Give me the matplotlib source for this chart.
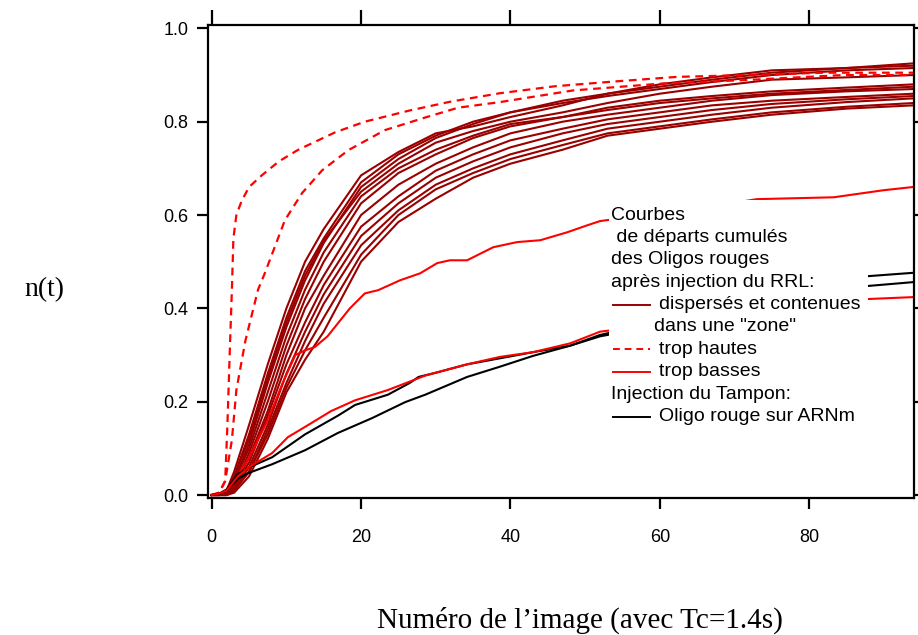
import matplotlib
matplotlib.use("Agg")
import matplotlib.pyplot as plt
from matplotlib.patches import Rectangle
from matplotlib.lines import Line2D

# ---------------- data ----------------
x_zone = [0, 1, 2, 3, 5, 7.5, 10, 12.5, 15, 20, 25, 30, 35, 40, 47, 53, 60, 67, 75, 85, 94]
zone_curves = [
    [0, 0, 0.01, 0.04, 0.13, 0.26, 0.38, 0.48, 0.55, 0.67, 0.73, 0.77, 0.80, 0.82, 0.845, 0.86, 0.875, 0.89, 0.905, 0.915, 0.925],
    [0, 0, 0.01, 0.05, 0.15, 0.28, 0.40, 0.50, 0.57, 0.685, 0.735, 0.775, 0.79, 0.81, 0.835, 0.86, 0.88, 0.895, 0.91, 0.915, 0.92],
    [0, 0, 0.005, 0.03, 0.11, 0.24, 0.36, 0.46, 0.54, 0.66, 0.72, 0.765, 0.795, 0.82, 0.84, 0.855, 0.87, 0.885, 0.90, 0.91, 0.915],
    [0, 0, 0.01, 0.04, 0.12, 0.25, 0.37, 0.47, 0.545, 0.65, 0.71, 0.755, 0.78, 0.80, 0.82, 0.84, 0.86, 0.875, 0.89, 0.895, 0.90],
    [0, 0, 0.005, 0.02, 0.09, 0.20, 0.32, 0.42, 0.50, 0.625, 0.69, 0.73, 0.765, 0.79, 0.81, 0.83, 0.845, 0.855, 0.865, 0.873, 0.88],
    [0, 0, 0.005, 0.03, 0.10, 0.22, 0.34, 0.44, 0.52, 0.64, 0.70, 0.74, 0.77, 0.795, 0.81, 0.825, 0.84, 0.85, 0.86, 0.868, 0.875],
    [0, 0, 0.0, 0.02, 0.08, 0.18, 0.30, 0.40, 0.47, 0.60, 0.665, 0.71, 0.745, 0.775, 0.80, 0.815, 0.83, 0.845, 0.857, 0.865, 0.87],
    [0, 0, 0.0, 0.015, 0.07, 0.17, 0.28, 0.37, 0.45, 0.575, 0.64, 0.695, 0.73, 0.76, 0.785, 0.805, 0.82, 0.835, 0.845, 0.853, 0.86],
    [0, 0, 0, 0.01, 0.06, 0.15, 0.26, 0.35, 0.43, 0.555, 0.625, 0.68, 0.715, 0.745, 0.775, 0.795, 0.81, 0.825, 0.838, 0.848, 0.855],
    [0, 0, 0, 0.01, 0.05, 0.14, 0.24, 0.33, 0.41, 0.535, 0.61, 0.665, 0.70, 0.73, 0.76, 0.785, 0.80, 0.815, 0.83, 0.842, 0.85],
    [0, 0, 0, 0.01, 0.05, 0.13, 0.23, 0.31, 0.38, 0.515, 0.60, 0.655, 0.69, 0.72, 0.75, 0.775, 0.79, 0.805, 0.82, 0.832, 0.84],
    [0, 0, 0, 0.005, 0.04, 0.12, 0.22, 0.29, 0.35, 0.50, 0.585, 0.635, 0.68, 0.71, 0.74, 0.77, 0.785, 0.80, 0.815, 0.828, 0.835],
]

high1_x = [0, 1, 1.8, 2.1, 2.4, 2.7, 2.9, 3.3, 4, 5, 6.7, 9, 11.6, 16.5, 20.5, 26.5, 32, 38.6, 46, 53.8, 62.3, 72, 82, 94]
high1_y = [0, 0.005, 0.03, 0.15, 0.30, 0.44, 0.55, 0.60, 0.63, 0.66, 0.685, 0.715, 0.74, 0.777, 0.80, 0.824, 0.843, 0.861, 0.876, 0.886, 0.896, 0.90, 0.905, 0.905]
high2_x = [0, 1, 1.8, 2.7, 3.3, 4.5, 6.2, 7.1, 9.8, 12.1, 14.8, 18.3, 23.2, 28.6, 33, 38.6, 48.4, 60.5, 71.2, 84.6, 94]
high2_y = [0, 0.005, 0.03, 0.118, 0.225, 0.33, 0.44, 0.475, 0.589, 0.647, 0.696, 0.739, 0.782, 0.809, 0.83, 0.842, 0.867, 0.882, 0.889, 0.90, 0.90]

low1_x = [0, 1, 2, 3, 5, 7.5, 9.5, 11.2, 12.5, 13.8, 15.5, 16.9, 18.5, 20.5, 22.3, 25.2, 27.9, 30.2, 31.9, 34.2, 37.7, 40.9, 44, 47.6, 50.3, 52, 69.5, 73, 83.3, 89.9, 93.9]
low1_y = [0, 0.003, 0.01, 0.03, 0.08, 0.16, 0.24, 0.30, 0.31, 0.317, 0.34, 0.368, 0.40, 0.432, 0.439, 0.46, 0.475, 0.497, 0.503, 0.503, 0.531, 0.542, 0.546, 0.563, 0.578, 0.587, 0.625, 0.634, 0.638, 0.653, 0.66]
low2_x = [0, 1, 2, 3.5, 5, 8.1, 10.2, 12.5, 16, 19.2, 23.6, 28.6, 34.2, 38.6, 43, 48, 52, 87.9, 93.8]
low2_y = [0, 0.003, 0.01, 0.04, 0.06, 0.09, 0.124, 0.146, 0.18, 0.203, 0.225, 0.256, 0.28, 0.296, 0.306, 0.325, 0.35, 0.42, 0.424]

buf1_x = [0, 1, 2, 3.5, 5.1, 8.1, 12.5, 16.9, 19.2, 23.6, 26.5, 27.7, 30, 34.2, 38.6, 43, 48, 52, 87.9, 93.8]
buf1_y = [0, 0.003, 0.012, 0.045, 0.06, 0.081, 0.13, 0.17, 0.193, 0.215, 0.24, 0.253, 0.262, 0.28, 0.293, 0.306, 0.32, 0.343, 0.469, 0.476]
buf2_x = [0, 1, 2, 3.5, 4.9, 8.1, 12.5, 16.9, 21.5, 25.9, 28.6, 34.2, 38.6, 43, 48, 52, 87.9, 93.8]
buf2_y = [0, 0.002, 0.01, 0.035, 0.047, 0.066, 0.096, 0.133, 0.165, 0.199, 0.215, 0.253, 0.275, 0.298, 0.32, 0.34, 0.448, 0.456]

x_ticks = [0, 20, 40, 60, 80]
y_ticks = [0.0, 0.2, 0.4, 0.6, 0.8, 1.0]
y_ticklabels = ["0.0", "0.2", "0.4", "0.6", "0.8", "1.0"]

legend_lines = ["Courbes", " de départs cumulés", "des Oligos rouges", "après injection du RRL:"]
legend_entries = ["dispersés et contenues", "dans une \"zone\"", "trop hautes", "trop basses",
                  "Injection du Tampon:", "Oligo rouge sur ARNm"]

DARK = "#990000"
RED = "#ff0000"

# ---------------- figure ----------------
fig = plt.figure(figsize=(9.18, 6.35), dpi=100)
ax = fig.add_axes([208 / 918, 1 - 498 / 635, 706 / 918, 473 / 635])

for ys in zone_curves:
    ax.plot(x_zone, ys, color=DARK, lw=1.5, zorder=2)
ax.plot(high1_x, high1_y, color=RED, lw=1.6, dashes=(3.5, 2.5), zorder=2)
ax.plot(high2_x, high2_y, color=RED, lw=1.6, dashes=(3.5, 2.5), zorder=2)
ax.plot(low1_x, low1_y, color=RED, lw=1.5, zorder=2)
ax.plot(buf1_x, buf1_y, color="black", lw=1.5, zorder=2)
ax.plot(buf2_x, buf2_y, color="black", lw=1.5, zorder=2)
ax.plot(low2_x, low2_y, color=RED, lw=1.5, zorder=2)

ax.set_xlim(-0.5, 94.05)
ax.set_ylim(-0.0064, 1.0072)
ax.set_xticks(x_ticks)
ax.set_yticks(y_ticks)
ax.set_yticklabels(y_ticklabels)
for s in ax.spines.values():
    s.set_linewidth(1.6)
ax.tick_params(axis="both", direction="out", length=8, width=1.6, labelsize=13,
               top=True, right=True, labeltop=False, labelright=False)
ax.tick_params(axis="x", pad=14)
ax.tick_params(axis="y", pad=6)
for lab in ax.get_xticklabels() + ax.get_yticklabels():
    lab.set_fontfamily("Liberation Sans")
for t in ax.xaxis.get_major_ticks():
    t.tick2line.set_markersize(11)

# legend block (opaque, covering the curves)
box = Rectangle((0.568, 0.112), 0.367, 0.518, transform=ax.transAxes,
                facecolor="white", edgecolor="none", zorder=5)
ax.add_patch(box)

step = 22.4 / 473
y0 = (498 - 215) / 473
xt = (611 - 208) / 706
xe = (659 - 208) / 706
xh0 = (613 - 208) / 706
xh1 = (650 - 208) / 706
fkw = dict(transform=ax.transAxes, fontsize=14, family="Liberation Sans",
           va="center", ha="left", zorder=6)
for i, s in enumerate(legend_lines):
    ax.text(xt, y0 - i * step, s, **fkw)

rows = [4, 5, 6, 7, 8, 9]
handles = [dict(color=DARK), None, dict(color=RED, dashes=(3.5, 2.5)), dict(color=RED), None, dict(color="black")]
xpos = [xe, (654 - 208) / 706, xe, xe, xt, xe]
for r, s, h, xp in zip(rows, legend_entries, handles, xpos):
    yy = y0 - r * step
    ax.text(xp, yy, s, **fkw)
    if h is not None:
        ln = Line2D([xh0, xh1], [yy, yy], transform=ax.transAxes, lw=1.4, zorder=6, **h)
        ax.add_line(ln)

fig.text(44 / 918, 1 - 290 / 635, "n(t)", fontsize=20, family="Liberation Serif",
         ha="center", va="center")
fig.text(580 / 918, 1 - 620 / 635, "Numéro de l\u2019image (avec Tc=1.4s)", fontsize=21,
         family="Liberation Serif", ha="center", va="center")

fig.savefig("out.png", dpi=100)
